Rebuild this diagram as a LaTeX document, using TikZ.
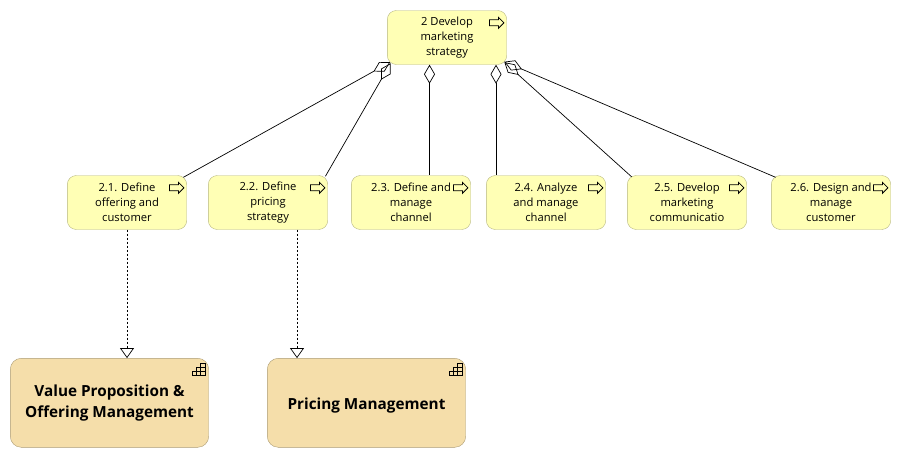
\documentclass[tikz,border=0pt]{standalone}
\usepackage{fontspec}
\setmainfont{Open Sans}
\usetikzlibrary{arrows.meta,positioning}
\definecolor{procColor}{HTML}{FFFFB5}
\definecolor{procLine}{HTML}{B5B57F}
\definecolor{capColor}{HTML}{F5DEAA}
\definecolor{capLine}{HTML}{AB9B73}
\tikzset{
	procbox/.style={draw=procLine, fill=procColor, rounded corners=9pt, minimum width=119.4pt, minimum height=54pt,
		inner sep=0, align=center, font=\fontsize{11.2}{15}\selectfont, execute at begin node={\rule{0pt}{10pt}}},
	capbox/.style={draw=capLine, fill=capColor, rounded corners=11pt, minimum width=198.4pt, minimum height=89pt,
		inner sep=0, align=center, font=\fontsize{15.3}{21}\selectfont\bfseries, execute at begin node={\rule{0pt}{17.5pt}}},
	aggr/.style={{Diamond[open,length=19pt,width=11pt]}-, line width=0.7pt},
	realize/.style={-{Triangle[open,length=10pt,width=14pt]}, dash pattern=on 2pt off 2pt, line width=0.7pt},
	pics/procicon/.style={code={
		\draw[line width=0.8pt, line join=miter] (-14.5,-3) -- (-5.5,-3) -- (-5.5,-5.5) -- (0,0) -- (-5.5,5.5) -- (-5.5,3) -- (-14.5,3) -- cycle;}},
	pics/capicon/.style={code={
		\draw[line width=0.7pt] (8,0) rectangle (12.5,12.5) (4,4) rectangle (8,12.5) (0,8) rectangle (4,12.5)
			(8,4) -- (12.5,4) (4,8) -- (12.5,8);}}
}
\begin{document}
\begin{tikzpicture}[x=1pt,y=-1pt]
	\useasboundingbox (0,0) rectangle (901,458);
	\node[procbox] (t0) at (447, 37.5) {2 Develop\\marketing\\strategy};
	\node[procbox] (t1) at (127, 202.5) {2.1. Define\\offering and\\customer};
	\node[procbox] (t2) at (268, 202.5) {2.2. Define\\pricing\\strategy};
	\node[procbox] (t3) at (411, 202.5) {2.3. Define and\\manage\\channel};
	\node[procbox] (t4) at (546, 202.5) {2.4. Analyze\\and manage\\channel};
	\node[procbox] (t5) at (687, 202.5) {2.5. Develop\\marketing\\communicatio};
	\node[procbox] (t6) at (831, 202.5) {2.6. Design and\\manage\\customer};
	\node[capbox] (c1) at (109.5, 402.8) {Value Proposition \&\\Offering Management};
	\node[capbox] (c2) at (366.5, 402.8) {Pricing Management};
	% icons
	\pic at ([xshift=-3pt,yshift=-12.5pt]t0.north east) {procicon};
	\pic at ([xshift=-3pt,yshift=-12.5pt]t1.north east) {procicon};
	\pic at ([xshift=-3pt,yshift=-12.5pt]t2.north east) {procicon};
	\pic at ([xshift=-3pt,yshift=-12.5pt]t3.north east) {procicon};
	\pic at ([xshift=-3pt,yshift=-12.5pt]t4.north east) {procicon};
	\pic at ([xshift=-3pt,yshift=-12.5pt]t5.north east) {procicon};
	\pic at ([xshift=-3pt,yshift=-12.5pt]t6.north east) {procicon};
	\pic at ([xshift=-16.2pt,yshift=-5pt]c1.north east) {capicon};
	\pic at ([xshift=-16.2pt,yshift=-5pt]c2.north east) {capicon};
	% aggregation
	\draw[aggr] ([xshift=3pt,yshift=2.5pt]t0.south west) -- ([xshift=-3.5pt,yshift=-2pt]t1.north east);
	\draw[aggr] ([xshift=3.5pt,yshift=1.5pt]t0.south west) -- ([xshift=-2.5pt,yshift=-1pt]t2.north east);
	\draw[aggr] ([xshift=-17.5pt]t0.south) -- ([xshift=18.5pt]t3.north);
	\draw[aggr] ([xshift=49pt]t0.south) -- ([xshift=-50pt]t4.north);
	\draw[aggr] ([xshift=-2.5pt,yshift=2.5pt]t0.south east) -- ([xshift=4.5pt,yshift=-1.5pt]t5.north west);
	\draw[aggr] ([xshift=-2.5pt,yshift=3pt]t0.south east) -- ([xshift=4.5pt,yshift=-2pt]t6.north west);
	% realization
	\draw[realize] (t1.south) -- (c1.north -| t1.south);
	\draw[realize] ([xshift=29pt]t2.south) -- ([xshift=-69.5pt]c2.north);
\end{tikzpicture}
\end{document}
